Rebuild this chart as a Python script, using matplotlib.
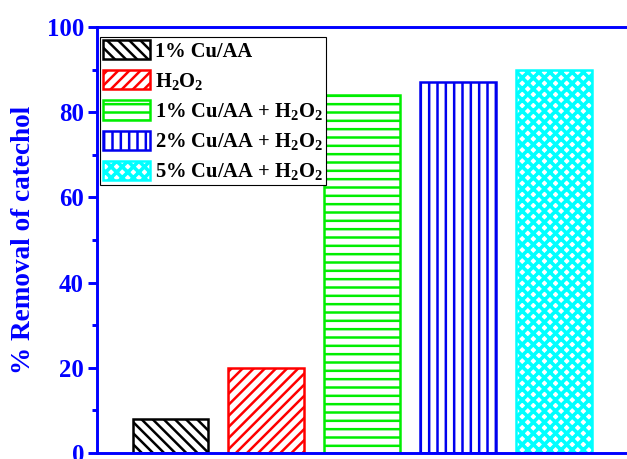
import matplotlib
matplotlib.use("Agg")
import matplotlib.pyplot as plt
import numpy as np

# Catechol removal for each system
labels = ["1% Cu/AA", "H$_2$O$_2$", "1% Cu/AA + H$_2$O$_2$",
          "2% Cu/AA + H$_2$O$_2$", "5% Cu/AA + H$_2$O$_2$"]
removal = [8, 20, 84, 87, 90]
colors = ["black", "red", "#00ee00", "#0000ee", "cyan"]
hatches = ["\\\\\\", "///", "--", "||", "xxx"]
hatch_widths = [1.8, 1.8, 1.8, 1.8, 2.6]
yticks = [0, 20, 40, 60, 80, 100]

DPI = 100
plt.rcParams.update({
    "font.family": "Liberation Serif",
    "font.weight": "bold",
    "mathtext.fontset": "custom",
    "mathtext.rm": "Liberation Serif:bold",
    "mathtext.bf": "Liberation Serif:bold",
    "mathtext.default": "rm",
})

fig = plt.figure(figsize=(627 / DPI, 459 / DPI), dpi=DPI)
ax = fig.add_axes([97 / 627, 1 - 453 / 459, 533 / 627, 426 / 459])

x = np.arange(1, len(removal) + 1)
for xi, v, c, h, hw, lab in zip(x, removal, colors, hatches, hatch_widths, labels):
    with plt.rc_context({"hatch.linewidth": hw}):
        ax.bar(xi, v, width=0.79, facecolor="white", edgecolor=c, hatch=h,
               linewidth=1.8, label=lab)

ax.set_xlim(0.235, 5.79)
ax.set_ylim(0, 100)
ax.set_yticks(yticks)
ax.set_yticks(np.arange(10, 100, 20), minor=True)
ax.set_xticks([])

blue = "#0000ff"
for s in ax.spines.values():
    s.set_color(blue)
    s.set_linewidth(2.1)

ax.tick_params(axis="y", which="major", direction="out", length=6.3, width=2.1,
               colors=blue, labelsize=17.8, pad=3)
ax.tick_params(axis="y", which="minor", direction="out", length=3.9, width=2.1,
               colors=blue)
for t in ax.get_yticklabels():
    t.set_fontweight("bold")

ax.set_ylabel("% Removal of catechol", color=blue, fontsize=19.6, fontweight="bold",
              labelpad=8)

leg = ax.legend(loc="upper left", bbox_to_anchor=(0.0056, 0.9765),
                borderaxespad=0, fontsize=14.8, handlelength=2.3,
                handleheight=1.05, labelspacing=0.42, handletextpad=0.25,
                borderpad=0.15, fancybox=False, framealpha=1, edgecolor="black")
leg.get_frame().set_linewidth(0.8)
for t in leg.get_texts():
    t.set_fontweight("bold")
for handle, hw in zip(leg.legend_handles, hatch_widths):
    if hasattr(handle, "set_hatch_linewidth"):
        handle.set_hatch_linewidth(hw)
    else:
        handle._hatch_linewidth = hw

fig.savefig("out.png", dpi=DPI)
